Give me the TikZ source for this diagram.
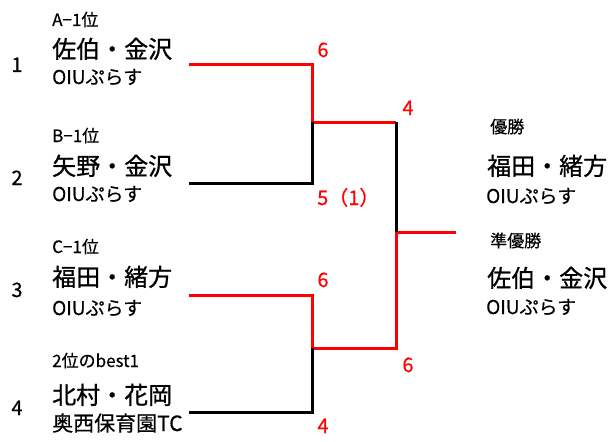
\documentclass[tikz,border=0pt]{standalone}
\usepackage{fontspec}
\setmainfont{Noto Sans CJK JP}[FakeBold=0.4]
\newfontfamily\heavy{Noto Sans CJK JP}[FakeBold=0.9]
\begin{document}
\begin{tikzpicture}[x=1pt,y=-1pt,
  win/.style={red, line width=3pt},
  lose/.style={black, line width=3pt},
  rank/.style={anchor=base west, inner sep=0pt, font=\fontsize{17}{17}\selectfont},
  pname/.style={anchor=base west, inner sep=0pt, font=\heavy\fontsize{24}{24}\selectfont},
  team/.style={anchor=base west, inner sep=0pt, font=\fontsize{19}{19}\selectfont},
  seed/.style={anchor=base, inner sep=0pt, font=\fontsize{20}{20}\selectfont},
  score/.style={anchor=base, inner sep=0pt, text=red, font=\fontsize{20}{20}\selectfont}]
\useasboundingbox (0,0) rectangle (609,441);

% bracket points
\coordinate (p1s) at (189,65);  \coordinate (p1e) at (312,65);
\coordinate (p2s) at (189,183); \coordinate (p2e) at (312,183);
\coordinate (p3s) at (189,295); \coordinate (p3e) at (312,295);
\coordinate (p4s) at (189,412); \coordinate (p4e) at (312,412);
\coordinate (s1) at (312,122);  \coordinate (s1e) at (396,122);
\coordinate (s2) at (312,348);  \coordinate (s2e) at (396,348);
\coordinate (f) at (396,232);   \coordinate (fe) at (456,232);

% winning lines
\draw[win] (p1s) -- (p1e) -- (s1) -- (s1e);
\draw[win] (p3s) -- (p3e) -- (s2) -- (s2e) -- (f) -- (fe);
% losing lines
\draw[lose] (p2s) -- (p2e) -- (s1);
\draw[lose] (p4s) -- (p4e) -- (s2);
\draw[lose] (s1e) -- (f);

% seeds
\node[seed] (n1) at (17,72) {1};
\node[seed] (n2) at (17,185) {2};
\node[seed] (n3) at (17,297) {3};
\node[seed] (n4) at (17,415) {4};

% entries
\node[rank]  (r1) at (52,26)  {A−1位};
\node[pname] (m1) at (52,58)  {佐伯・金沢};
\node[team]  (t1) at (52,84)  {OIUぷらす};
\node[rank]  (r2) at (52,142) {B−1位};
\node[pname] (m2) at (52,175) {矢野・金沢};
\node[team]  (t2) at (52,201) {OIUぷらす};
\node[rank]  (r3) at (52,253) {C−1位};
\node[pname] (m3) at (52,286) {福田・緒方};
\node[team]  (t3) at (52,315) {OIUぷらす};
\node[rank]  (r4) at (52,367) {2位のbest1};
\node[pname] (m4) at (52,404) {北村・花岡};
\node[team, font=\fontsize{21}{21}\selectfont]  (t4) at (52,431) {奥西保育園TC};

% scores
\node[score] (c1) at (323,57)  {6};
\node[score, anchor=base west] (c2) at (317,205) {5（1）};
\node[score] (c3) at (323,287) {6};
\node[score] (c4) at (323,433) {4};
\node[score] (c5) at (408,115) {4};
\node[score] (c6) at (408,372) {6};

% results
\node[rank]  (w0) at (490,133) {優勝};
\node[pname] (w1) at (487,175) {福田・緒方};
\node[team]  (w2) at (486,203) {OIUぷらす};
\node[rank]  (u0) at (490,247) {準優勝};
\node[pname] (u1) at (487,287) {佐伯・金沢};
\node[team]  (u2) at (486,314) {OIUぷらす};
\end{tikzpicture}
\end{document}
